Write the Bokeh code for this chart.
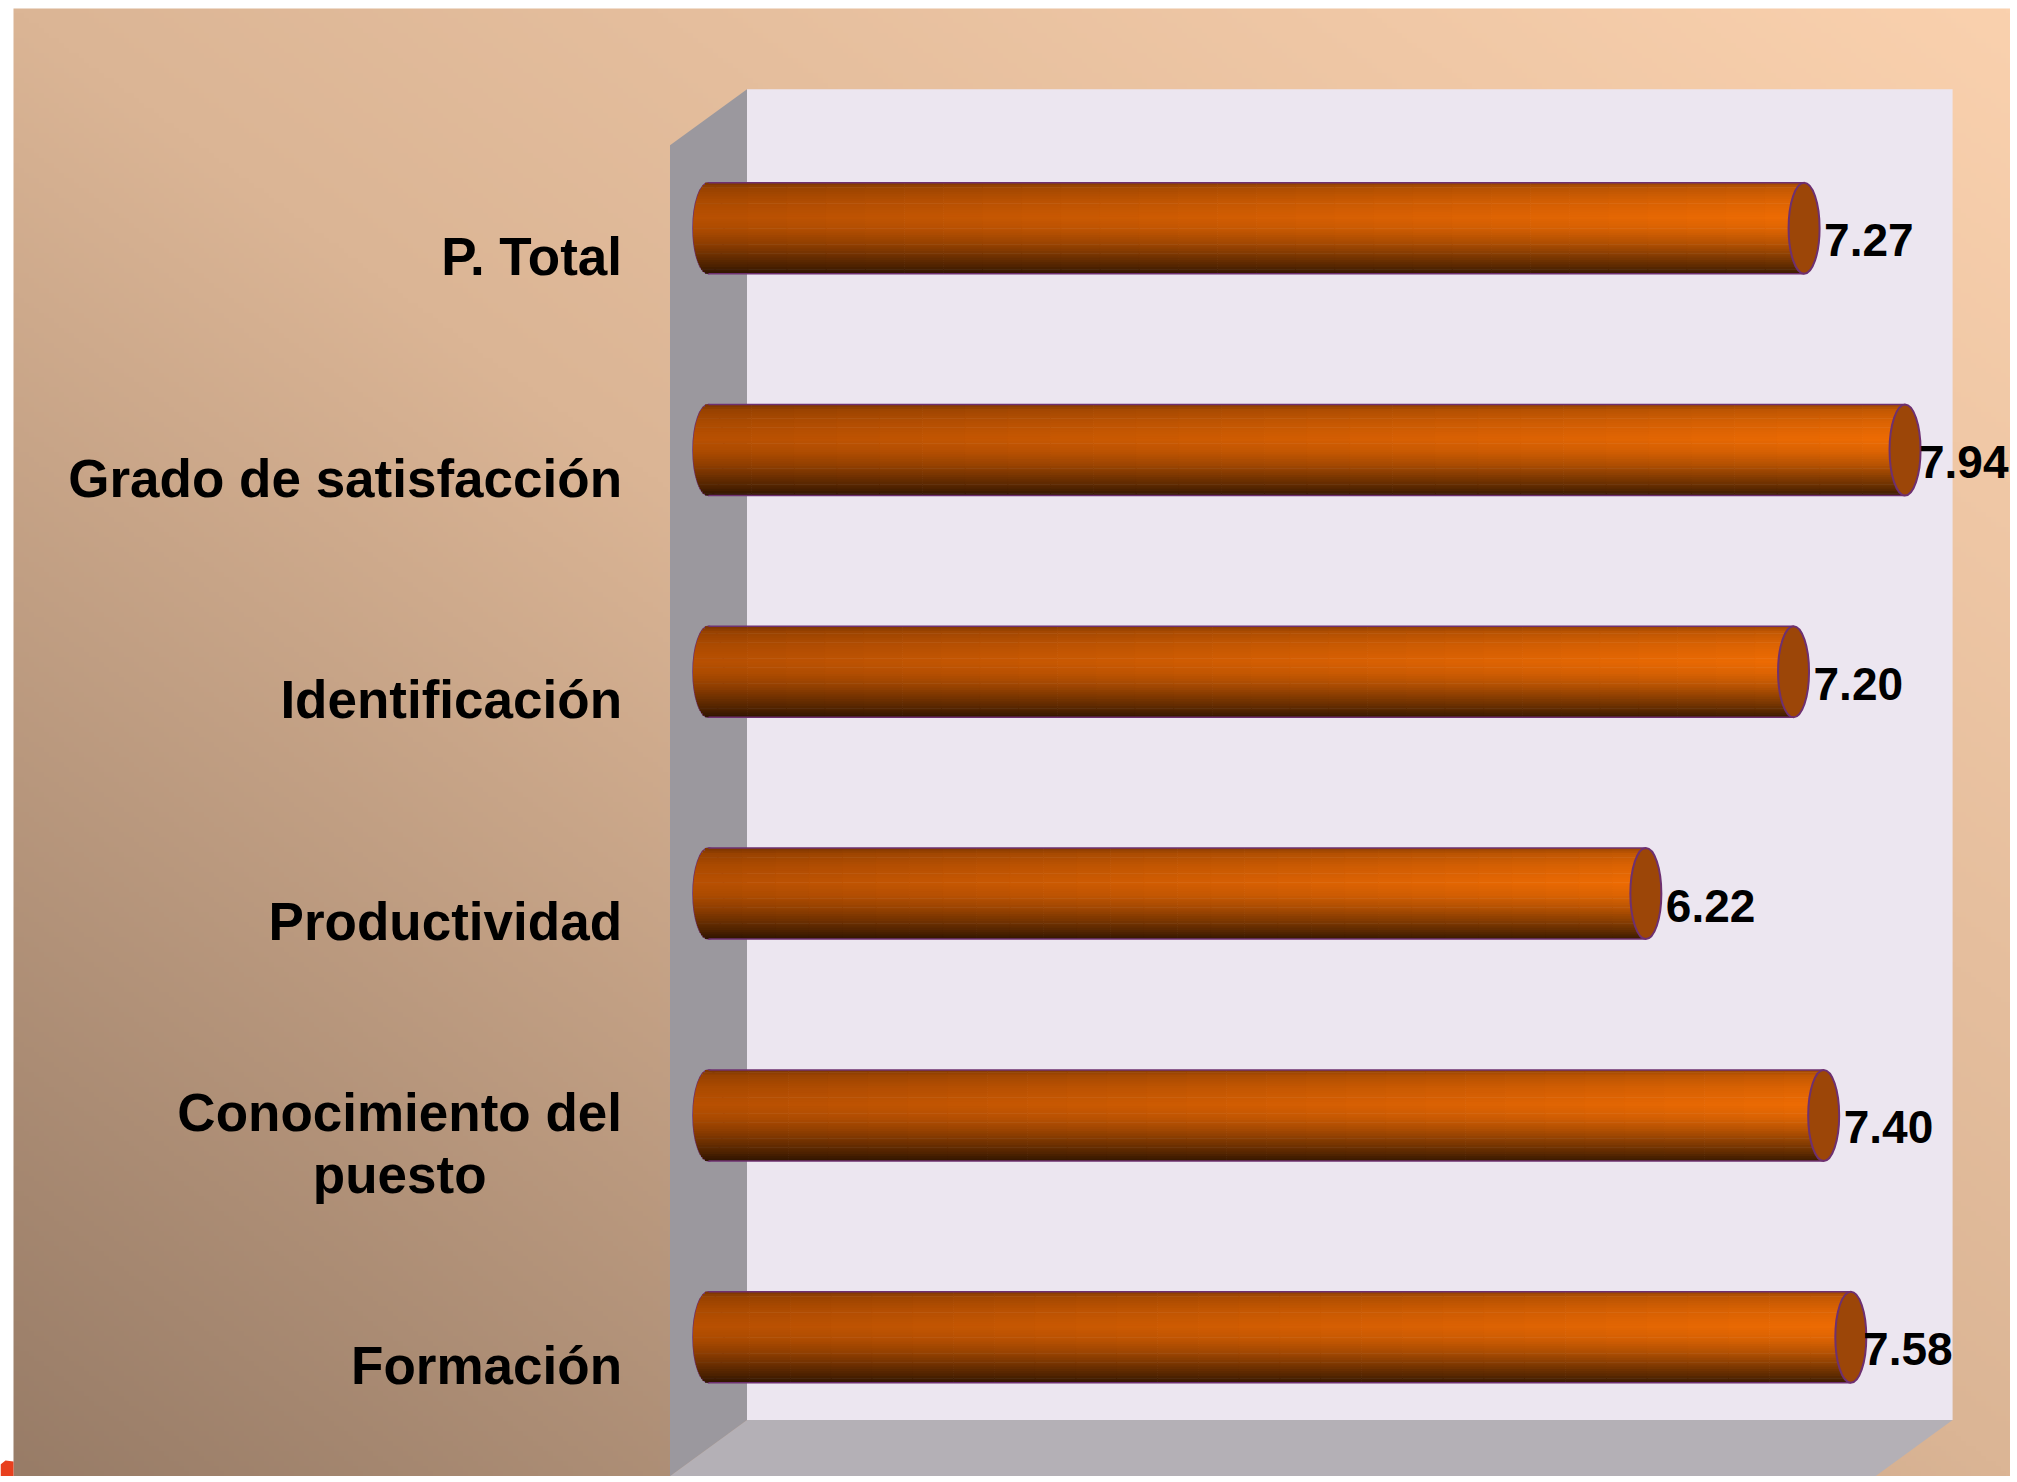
import numpy as np
from bokeh.plotting import figure
from bokeh.models import Range1d, ColumnDataSource
from bokeh.core.properties import value
from bokeh.embed import file_html
from bokeh.resources import INLINE

# ---------------- data ----------------
categories = ["Formación", "Conocimiento del\npuesto", "Productividad",
              "Identificación", "Grado de satisfacción", "P. Total"]
values = [7.58, 7.40, 6.22, 7.20, 7.94, 7.27]
value_labels = ["7.58", "7.40", "6.22", "7.20", "7.94", "7.27"]
x_min, x_max = 0.0, 8.0

# ---------------- layout (pixels) ----------------
W, H = 2010, 1476
SX = 150.7      # px per value unit
SY = 221.8      # px per category step
X0_PX = 708     # px position of value 0 (mid depth plane)
YTOP_PX = 227.7 # px position of top category centre (mid depth plane)
n = len(categories)

xs = -X0_PX / SX
xe = xs + W / SX
ye = (n - 1) + YTOP_PX / SY
ys = ye - H / SY


def px_x(px):
    return xs + px / SX


def px_y(py):
    return ye - py / SY


dx = 38.5 / SX    # 3-D depth offset (half), data units
dy = 28 / SY
bar_h = 45.5 / SY
cap_a = 15.5 / SX

FONT = value("Liberation Sans")

p = figure(width=W, height=H, x_range=Range1d(xs, xe), y_range=Range1d(ys, ye),
           output_backend="svg", toolbar_location=None, min_border=0,
           x_axis_location=None, y_axis_location=None,
           background_fill_color="white", border_fill_color="white",
           outline_line_color=None)
p.grid.visible = False

# ---------------- background gradient ----------------
nx, ny = 400, 294
u = np.linspace(0, 1, nx)[None, :]
v = np.linspace(0, 1, ny)[:, None]
t = 0.5 * u + 0.5 * v
c_bl = np.array([152, 124, 103], float)
c_md = np.array([219, 181, 149], float)
c_tr = np.array([250, 209, 174], float)
t3 = t[..., None]
col = np.where(t3 < 0.5, c_bl + (c_md - c_bl) * (t3 / 0.5),
               c_md + (c_tr - c_md) * ((t3 - 0.5) / 0.5))
rgba = np.zeros((ny, nx, 4), dtype=np.uint8)
rgba[..., :3] = np.clip(col, 0, 255).astype(np.uint8)
rgba[..., 3] = 255
img = rgba.view(dtype=np.uint32).reshape(ny, nx)
bg_x0 = px_x(13)
bg_y1 = px_y(8)
p.image_rgba(image=[img], x=bg_x0, y=ys, dw=xe - bg_x0, dh=bg_y1 - ys)

# small red fragment at lower-left corner
p.patch(x=[px_x(0), px_x(0), px_x(5), px_x(13), px_x(13)],
        y=[px_y(H), px_y(1464), px_y(1460), px_y(1461), px_y(H)],
        fill_color="#E8401E", line_color=None)

# ---------------- 3-D walls ----------------
y_lo, y_hi = -0.5, n - 0.5
p.quad(left=[x_min + dx], right=[x_max + dx], bottom=[y_lo + dy], top=[y_hi + dy],
       fill_color="#ECE6F0", line_color=None)
p.patch(x=[x_min + dx, x_min + dx, x_min - dx, x_min - dx],
        y=[y_hi + dy, y_lo + dy, y_lo - dy, y_hi - dy],
        fill_color="#9B989E", line_color=None)
p.patch(x=[x_min + dx, x_max + dx, x_max - dx, x_min - dx],
        y=[y_lo + dy, y_lo + dy, y_lo - dy, y_lo - dy],
        fill_color="#B4B0B6", line_color=None)

# ---------------- cylinders ----------------
ys_c = list(range(n))
OUTLINE = "#6E3070"
p.ellipse(x=[0] * n, y=ys_c, width=2 * cap_a, height=2 * bar_h,
          fill_color=None, line_color=OUTLINE, line_width=1.5)

NR, NC = 40, 28
prof_t = [0.0, 0.06, 0.2, 0.38, 0.52, 0.66, 0.8, 0.92, 1.0]
prof_f = [0.66, 0.82, 0.93, 1.0, 0.93, 0.78, 0.58, 0.4, 0.25]
c_left = np.array([184, 80, 2], float)
c_right = np.array([238, 108, 4], float)

L, R, B, T, C = [], [], [], [], []
row_h = 2 * bar_h / NR
for ci, val in enumerate(values):
    for r in range(NR):
        tc = (r + 0.5) / NR
        top = ci + bar_h - row_h * r
        bot = top - row_h - (0.6 / SY if r < NR - 1 else 0)
        s = 1 - 2 * tc
        left_cap = -cap_a * np.sqrt(max(0.0, 1 - s * s))
        f = np.interp(tc, prof_t, prof_f)
        for k in range(NC):
            tx = (k + 0.5) / NC
            base = c_left + (c_right - c_left) * tx
            cc = np.clip(base * f, 0, 255).astype(int)
            L.append(left_cap if k == 0 else val * k / NC)
            R.append(val * (k + 1) / NC + (0.6 / SX if k < NC - 1 else 0))
            B.append(bot)
            T.append(top)
            C.append("#%02x%02x%02x" % tuple(cc))
body = ColumnDataSource(dict(left=L, right=R, bottom=B, top=T, color=C))
p.quad(left="left", right="right", bottom="bottom", top="top", source=body,
       fill_color="color", line_color=None)

p.segment(x0=[0] * n, y0=[y + bar_h for y in ys_c], x1=values, y1=[y + bar_h for y in ys_c],
          line_color=OUTLINE, line_width=1.5)
p.segment(x0=[0] * n, y0=[y - bar_h for y in ys_c], x1=values, y1=[y - bar_h for y in ys_c],
          line_color=OUTLINE, line_width=1.5)
p.ellipse(x=values, y=ys_c, width=2 * cap_a, height=2 * bar_h,
          fill_color="#9C4608", line_color=OUTLINE, line_width=2)

# ---------------- category labels ----------------
AB = {'C': 722, 'o': 611, 'n': 611, 'c': 556, 'i': 278, 'm': 889, 'e': 556, 't': 333,
      ' ': 278, 'd': 611, 'l': 278, 'p': 611, 'u': 611, 's': 556, '.': 278}
for dch in "0123456789":
    AB[dch] = 556
CAT_SIZE = 53
single_x, single_y, single_t = [], [], []
for ci, lab in enumerate(categories):
    if "\n" in lab:
        first = lab.split("\n")[0]
        w1 = sum(AB.get(ch, 600) for ch in first) * CAT_SIZE / 1000.0
        p.text(x=[x_min - dx], y=[ci - dy], text=[lab], x_offset=-48 - w1 / 2,
               text_align="center", text_baseline="middle", text_font=FONT,
               text_font_style="bold", text_font_size=value(f"{CAT_SIZE}px"),
               text_color="black", text_line_height=1.05)
    else:
        single_x.append(x_min - dx)
        single_y.append(ci - dy)
        single_t.append(lab)
p.text(x=single_x, y=single_y, text=single_t, x_offset=-48,
       text_align="right", text_baseline="middle", text_font=FONT,
       text_font_style="bold", text_font_size=value(f"{CAT_SIZE}px"), text_color="black")

# ---------------- value labels ----------------
VAL_SIZE = 46
wall_right_px = X0_PX + (x_max + dx) * SX
offs = []
for val, lab in zip(values, value_labels):
    w = sum(AB[ch] for ch in lab) * VAL_SIZE / 1000.0
    cx = X0_PX + val * SX
    off = 20.0
    end = cx + off + w
    if 0 < end - wall_right_px < 15:
        off -= end - wall_right_px
    end = cx + off + w
    if end > W - 2:
        off -= end - (W - 2)
    offs.append(off)
p.text(x=values, y=ys_c, text=value_labels, x_offset=offs, y_offset=12,
       text_align="left", text_baseline="middle", text_font=FONT,
       text_font_style="bold", text_font_size=value(f"{VAL_SIZE}px"), text_color="black")

open("out.html", "w").write(file_html(p, INLINE))
